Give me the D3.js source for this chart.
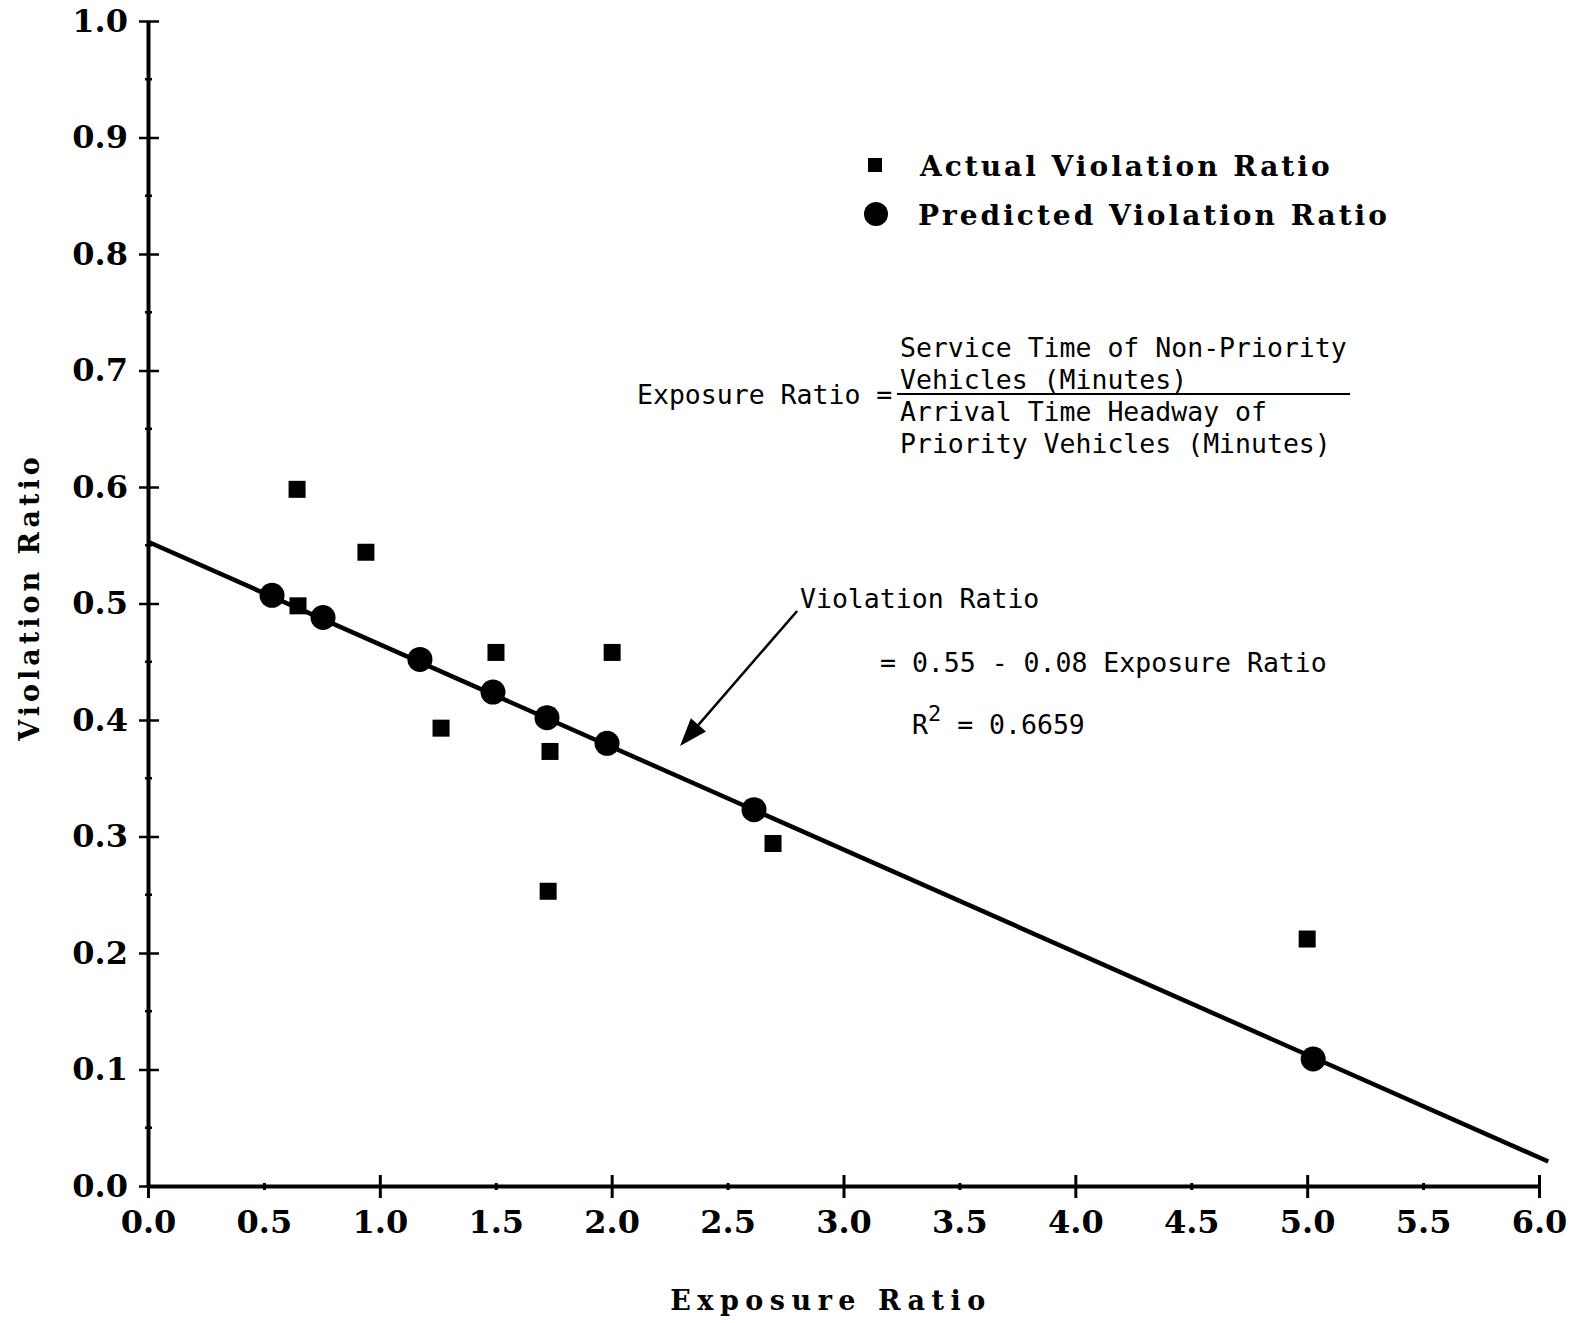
<!DOCTYPE html>
<html>
<head>
<meta charset="utf-8">
<script src="https://cdn.jsdelivr.net/npm/d3@7"></script>
<style>
  html, body { margin: 0; padding: 0; background: #fff; }
  svg { display: block; }
</style>
</head>
<body>
<svg id="chart" width="1572" height="1323"></svg>
<script>
// ---------- data ----------
const xTickValues = [0, 0.5, 1, 1.5, 2, 2.5, 3, 3.5, 4, 4.5, 5, 5.5, 6];
const xTickLabels = ["0.0","0.5","1.0","1.5","2.0","2.5","3.0","3.5","4.0","4.5","5.0","5.5","6.0"];
const yTickValues = [0, 0.1, 0.2, 0.3, 0.4, 0.5, 0.6, 0.7, 0.8, 0.9, 1.0];
const yTickLabels = ["0.0","0.1","0.2","0.3","0.4","0.5","0.6","0.7","0.8","0.9","1.0"];
const yMinorTicks = [0.05, 0.15, 0.25, 0.35, 0.45, 0.55, 0.65, 0.75, 0.85, 0.95];

const actualX = [0.643, 0.940, 0.647, 1.501, 2.002, 1.264, 1.734, 1.726, 2.696, 5.000];
const actualY = [0.598, 0.544, 0.498, 0.458, 0.458, 0.393, 0.373, 0.253, 0.294, 0.212];

const predX = [0.535, 0.755, 1.173, 1.488, 1.721, 1.980, 2.614, 5.026];
const predY = [0.507, 0.488, 0.452, 0.424, 0.402, 0.380, 0.323, 0.109];

const fitX = [0, 6.04];
const fitY = [0.553, 0.021];

const legendLabels = ["Actual Violation Ratio", "Predicted Violation Ratio"];
const xTitle = "Exposure Ratio";
const yTitle = "Violation Ratio";
const formulaNumerator = ["Service Time of Non-Priority", "Vehicles (Minutes)"];
const formulaDenominator = ["Arrival Time Headway of", "Priority Vehicles (Minutes)"];
const formulaLeft = "Exposure Ratio =";
const eqLines = ["Violation Ratio", "= 0.55 - 0.08 Exposure Ratio"];
const r2Text = ["R", "2", " = 0.6659"];
const arrowFrom = [2.80, 0.4936];
const arrowTo = [2.295, 0.3777];

// ---------- setup ----------
const svg = d3.select("#chart");
const x = d3.scaleLinear().domain([0, 6]).range([148, 1539]);
const y = d3.scaleLinear().domain([0, 1]).range([1186, 21]);

const serif = "'DejaVu Serif', 'Liberation Serif', serif";
const mono = "'DejaVu Sans Mono', 'Liberation Mono', monospace";

// ---------- axes ----------
const xAxis = d3.axisBottom(x)
  .tickValues(xTickValues)
  .tickFormat((d, i) => xTickLabels[i])
  .tickSizeOuter(0)
  .tickPadding(24);
const gx = svg.append("g").attr("transform", `translate(0,${y(0)})`).call(xAxis);
gx.select(".domain").attr("stroke", "#000").attr("stroke-width", 4);
gx.selectAll(".tick line")
  .attr("stroke", "#000")
  .attr("stroke-width", 3)
  .attr("y1", (d) => Number.isInteger(d) ? -11 : -3)
  .attr("y2", (d) => Number.isInteger(d) ? 12 : 4);
gx.selectAll(".tick text")
  .attr("font-family", serif)
  .attr("font-weight", "bold")
  .attr("font-size", 32)
  .attr("fill", "#000")
  .attr("dy", "0.71em")
  .attr("y", 24);

const yAxis = d3.axisLeft(y)
  .tickValues(yTickValues)
  .tickFormat((d, i) => yTickLabels[i])
  .tickSizeOuter(0)
  .tickPadding(20);
const gy = svg.append("g").attr("transform", `translate(${x(0)},0)`).call(yAxis);
gy.select(".domain").attr("stroke", "#000").attr("stroke-width", 4);
gy.selectAll(".tick line")
  .attr("stroke", "#000")
  .attr("stroke-width", 2.5)
  .attr("x1", -9)
  .attr("x2", 11);
gy.selectAll(".tick text")
  .attr("font-family", serif)
  .attr("font-weight", "bold")
  .attr("font-size", 32)
  .attr("fill", "#000")
  .attr("x", -20);

// minor y ticks
svg.append("g").selectAll("line").data(yMinorTicks).join("line")
  .attr("x1", x(0) - 3).attr("x2", x(0) + 4)
  .attr("y1", d => y(d)).attr("y2", d => y(d))
  .attr("stroke", "#000").attr("stroke-width", 2.5);

// ---------- axis titles ----------
svg.append("text")
  .attr("x", 831).attr("y", 1310)
  .attr("text-anchor", "middle")
  .attr("font-family", serif).attr("font-weight", "bold")
  .attr("font-size", 27).attr("letter-spacing", 6.5)
  .text(xTitle);

svg.append("text")
  .attr("transform", "translate(39,597) rotate(-90)")
  .attr("text-anchor", "middle")
  .attr("font-family", serif).attr("font-weight", "bold")
  .attr("font-size", 27).attr("letter-spacing", 4)
  .text(yTitle);

// ---------- regression line ----------
const fitData = fitX.map((v, i) => [v, fitY[i]]);
svg.append("path")
  .datum(fitData)
  .attr("d", d3.line().x(d => x(d[0])).y(d => y(d[1])))
  .attr("fill", "none").attr("stroke", "#000").attr("stroke-width", 4.5);

// ---------- points ----------
const sq = 17;
svg.append("g").selectAll("rect").data(actualX.map((v, i) => [v, actualY[i]])).join("rect")
  .attr("x", d => x(d[0]) - sq / 2)
  .attr("y", d => y(d[1]) - sq / 2)
  .attr("width", sq).attr("height", sq)
  .attr("fill", "#000");

svg.append("g").selectAll("circle").data(predX.map((v, i) => [v, predY[i]])).join("circle")
  .attr("cx", d => x(d[0]))
  .attr("cy", d => y(d[1]))
  .attr("r", 12.5)
  .attr("fill", "#000");

// ---------- legend ----------
const lg = svg.append("g");
lg.append("rect").attr("x", 868).attr("y", 158).attr("width", 14).attr("height", 14).attr("fill", "#000");
lg.append("circle").attr("cx", 876).attr("cy", 214).attr("r", 12).attr("fill", "#000");
lg.selectAll("text").data(legendLabels).join("text")
  .attr("x", (d, i) => i === 0 ? 920 : 918)
  .attr("y", (d, i) => i === 0 ? 176 : 225)
  .attr("font-family", serif).attr("font-weight", "bold")
  .attr("font-size", 28).attr("letter-spacing", 3)
  .text(d => d);

// ---------- formula ----------
const fm = svg.append("g").attr("font-family", mono).attr("font-size", 26.5).attr("fill", "#000");
fm.append("text").attr("x", 637).attr("y", 404).text(formulaLeft);
fm.selectAll("text.num").data(formulaNumerator).join("text").attr("class", "num")
  .attr("x", 900).attr("y", (d, i) => 357 + i * 32).text(d => d);
fm.selectAll("text.den").data(formulaDenominator).join("text").attr("class", "den")
  .attr("x", 900).attr("y", (d, i) => 421 + i * 32).text(d => d);
fm.append("line").attr("x1", 897).attr("x2", 1350).attr("y1", 394).attr("y2", 394)
  .attr("stroke", "#000").attr("stroke-width", 2);

// ---------- equation annotation ----------
const eq = svg.append("g").attr("font-family", mono).attr("font-size", 26.5).attr("fill", "#000");
eq.append("text").attr("x", 800).attr("y", 608).text(eqLines[0]);
eq.append("text").attr("x", 880).attr("y", 672).text(eqLines[1]);
const r2 = eq.append("text").attr("x", 912).attr("y", 734);
r2.append("tspan").text(r2Text[0]);
r2.append("tspan").attr("dy", -13).attr("font-size", 22).text(r2Text[1]);
r2.append("tspan").attr("dy", 13).text(r2Text[2]);

// arrow
const ax1 = x(arrowFrom[0]), ay1 = y(arrowFrom[1]);
const ax2 = x(arrowTo[0]), ay2 = y(arrowTo[1]);
const ang = Math.atan2(ay2 - ay1, ax2 - ax1);
const headLen = 28, headW = 10;
const bx = ax2 - headLen * Math.cos(ang), by = ay2 - headLen * Math.sin(ang);
svg.append("line")
  .attr("x1", ax1).attr("y1", ay1).attr("x2", bx).attr("y2", by)
  .attr("stroke", "#000").attr("stroke-width", 2.5);
svg.append("path")
  .attr("d", `M${ax2},${ay2} L${bx + headW * Math.sin(ang)},${by - headW * Math.cos(ang)} L${bx - headW * Math.sin(ang)},${by + headW * Math.cos(ang)} Z`)
  .attr("fill", "#000");
</script>
</body>
</html>
